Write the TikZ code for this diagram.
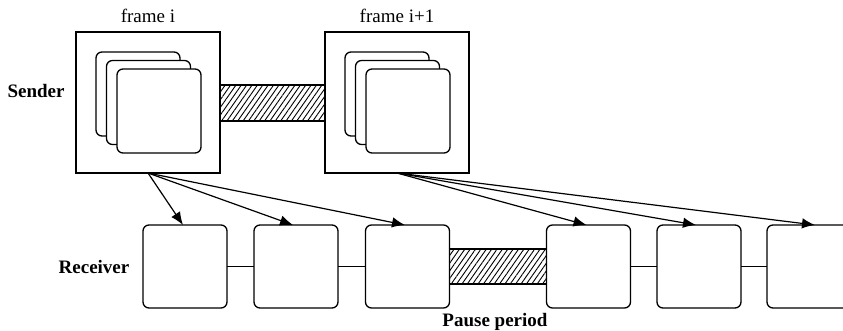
\documentclass[tikz,border=0pt]{standalone}
\usepackage{fontspec}
\setmainfont{Liberation Serif}
\usetikzlibrary{arrows.meta,patterns.meta}

\begin{document}
\begin{tikzpicture}[x=1pt,y=-1pt,
  framebox/.style={draw, line width=1.3pt, minimum width=144pt, minimum height=141pt, inner sep=0pt, outer sep=0pt, fill=white},
  card/.style={draw, line width=1.3pt, rounded corners=6pt, fill=white, minimum width=84pt, minimum height=84pt, inner sep=0pt, outer sep=0pt},
  slot/.style={draw, line width=1.3pt, rounded corners=6pt, fill=white, minimum width=84pt, minimum height=83pt, inner sep=0pt, outer sep=0pt},
  gapbar/.style={draw, line width=1.3pt, inner sep=0pt, outer sep=0pt, pattern={Lines[angle=55,distance=4.4pt,line width=0.9pt]}},
  send/.style={-{Latex[length=13pt,width=10.5pt]}, line width=1.2pt},
  link/.style={line width=1.3pt},
  lbl/.style={font=\fontsize{19}{22}\selectfont, inner sep=0pt, anchor=base},
  blbl/.style={lbl, font=\fontsize{19}{22}\selectfont\bfseries}
]
\useasboundingbox (0,0) rectangle (843,330);

% sender side: two frames joined by a hatched bar
\node[gapbar, minimum width=105pt, minimum height=36pt] (h1) at (272.5,103) {};
\node[framebox] (fi) at (148,102.5) {};
\node[framebox] (fj) at (397,102.5) {};

\node[card] (fia) at (138,94) {};
\node[card] (fib) at (148.5,102.5) {};
\node[card] (fic) at (159,111) {};
\node[card] (fja) at (387,94) {};
\node[card] (fjb) at (397.5,102.5) {};
\node[card] (fjc) at (408,111) {};

% receiver side
\node[gapbar, minimum width=98pt, minimum height=35pt] (h2) at (498,266.5) {};
\node[slot] (r1) at (185,266.5) {};
\node[slot] (r2) at (296,266.5) {};
\node[slot] (r3) at (407.5,266.5) {};
\node[slot] (r4) at (588.5,266.5) {};
\node[slot] (r5) at (699,266.5) {};
\node[slot] (r6) at (809,266.5) {};

\draw[link] (r1.east) -- (r2.west);
\draw[link] (r2.east) -- (r3.west);
\draw[link] (r4.east) -- (r5.west);
\draw[link] (r5.east) -- (r6.west);

% transmissions
\draw[send] (fi.south) -- ([xshift=-2pt]r1.north);
\draw[send] (fi.south) -- ([xshift=-3pt]r2.north);
\draw[send] (fi.south) -- ([xshift=-2.5pt]r3.north);
\draw[send] (fj.south) -- ([xshift=-2pt]r4.north);
\draw[send] (fj.south) -- ([xshift=-3pt]r5.north);
\draw[send] (fj.south) -- ([xshift=6pt]r6.north);

% labels
\node[lbl] (t1) at (148,22) {frame i};
\node[lbl] (t2) at (397,22) {frame i+1};
\node[blbl] (t3) at (36,97) {Sender};
\node[blbl] (t4) at (94,273) {Receiver};
\node[blbl] (t5) at (495,326) {Pause period};
\end{tikzpicture}
\end{document}
